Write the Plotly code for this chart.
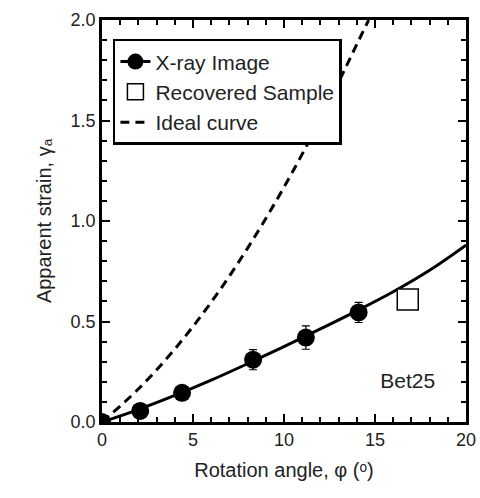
import plotly.graph_objects as go

# Measured apparent strain from X-ray images
phi_xray = [0, 2.1, 4.4, 8.3, 11.2, 14.1]
gamma_xray = [0, 0.055, 0.145, 0.31, 0.42, 0.545]
err_xray = [0, 0, 0, 0.05, 0.058, 0.05]

# Recovered sample
phi_rec = [16.8]
gamma_rec = [0.61]

# Fitted curve through the X-ray data
phi_fit = [0, 2, 4, 6, 8, 10, 12, 14, 16, 18, 20]
gamma_fit = [0, 0.062, 0.132, 0.208, 0.29, 0.375, 0.463, 0.553, 0.648, 0.755, 0.88]

# Ideal curve
phi_ideal = [0, 2, 4, 6, 8, 10, 12, 14, 14.65]
gamma_ideal = [0, 0.164, 0.363, 0.596, 0.865, 1.168, 1.506, 1.879, 2.0]

# Sample label
label_text = ["Bet25"]
label_phi = [16.8]
label_gamma = [0.195]

FONT = "Liberation Sans, Arial, DejaVu Sans, sans-serif"
TXT = "#222222"

fig = go.Figure()

fig.add_trace(go.Scatter(
    x=phi_ideal, y=gamma_ideal, mode="lines", line_shape="spline",
    line=dict(color="black", width=3, dash="9px,6px"),
    showlegend=False, hoverinfo="skip"))

fig.add_trace(go.Scatter(
    x=phi_fit, y=gamma_fit, mode="lines", line_shape="spline",
    line=dict(color="black", width=3),
    showlegend=False, hoverinfo="skip"))

fig.add_trace(go.Scatter(
    x=phi_xray, y=gamma_xray, mode="markers",
    marker=dict(symbol="circle", size=18, color="black"),
    error_y=dict(type="data", array=err_xray, width=4, color="black", thickness=1.2),
    showlegend=False))

fig.add_trace(go.Scatter(
    x=phi_rec, y=gamma_rec, mode="markers",
    marker=dict(symbol="square", size=21, color="white", line=dict(width=1.5, color="black")),
    showlegend=False))

fig.add_trace(go.Scatter(
    x=label_phi, y=label_gamma, mode="text", text=label_text,
    textfont=dict(size=21, color=TXT), showlegend=False, hoverinfo="skip"))

# Legend entries
fig.add_trace(go.Scatter(
    x=[None], y=[None], mode="lines+markers", name="X-ray Image",
    line=dict(color="black", width=3),
    marker=dict(symbol="circle", size=21, color="black")))
fig.add_trace(go.Scatter(
    x=[None], y=[None], mode="markers", name="Recovered Sample",
    marker=dict(symbol="square", size=21, color="white", line=dict(width=1.5, color="black"))))
fig.add_trace(go.Scatter(
    x=[None], y=[None], mode="lines", name="Ideal curve",
    line=dict(color="black", width=3, dash="9px,6px")))

fig.update_xaxes(
    range=[0, 20], dtick=5, ticks="inside", ticklen=8, tickwidth=2, tickcolor="black",
    showline=True, linecolor="black", linewidth=2.5, mirror="allticks",
    showgrid=False, zeroline=False, tickfont=dict(size=18),
    minor=dict(dtick=1, ticks="inside", ticklen=5, tickcolor="black"),
    title=dict(text="Rotation angle, \u03c6 (\u1d52)", standoff=14, font=dict(size=20)))

fig.update_yaxes(
    range=[0, 2.0], dtick=0.5, tickformat=".1f", ticks="inside", ticklen=8, tickwidth=2,
    tickcolor="black", showline=True, linecolor="black", linewidth=2.5, mirror="allticks",
    showgrid=False, zeroline=False, tickfont=dict(size=18),
    minor=dict(dtick=0.1, ticks="inside", ticklen=5, tickcolor="black"),
    title=dict(text="Apparent strain, \u03b3\u2090", standoff=14, font=dict(size=20)))

fig.update_layout(
    template="none",
    font=dict(family=FONT, color=TXT),
    width=480, height=498,
    margin=dict(l=102, r=14, t=20, b=76),
    legend=dict(x=0.03, y=0.953, xanchor="left", yanchor="top",
                bordercolor="black", borderwidth=2.5, font=dict(size=21)),
)

fig.write_html("out.html")
